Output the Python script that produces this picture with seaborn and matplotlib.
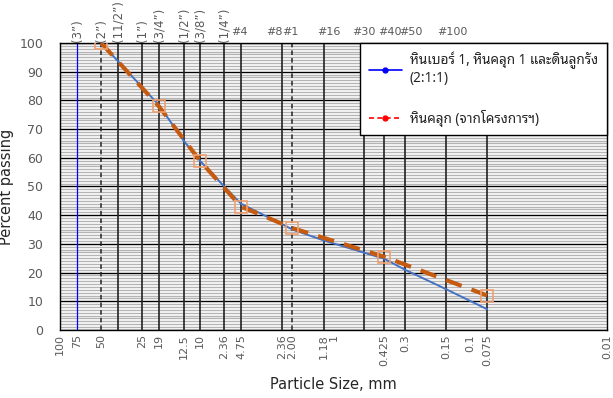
import numpy as np
import pandas as pd
import matplotlib
matplotlib.use('Agg')
import matplotlib.pyplot as plt
from matplotlib import font_manager as fm
from matplotlib.ft2font import FT2Font
from matplotlib.lines import Line2D
from matplotlib.ticker import NullLocator
import seaborn as sns

# blend: หินเบอร์ 1, หินคลุก 1 และดินลูกรัง (2:1:1)
blend_size = [50, 37.5, 25, 19, 12.5, 9.5, 6.3, 4.75, 2.36, 2.0, 1.18, 0.425, 0.3, 0.15, 0.075]
blend_pass = [100, 93.5, 84.5, 78.5, 66, 59, 50, 44, 36.8, 35, 31.2, 24.8, 21, 14.2, 7.2]

# หินคลุก (จากโครงการฯ)
spec_size = [50, 19, 9.5, 4.75, 2.0, 0.425, 0.075]
spec_pass = [100, 78, 59, 43, 35.5, 25.5, 12]

sieve_lines = [75, 50, 37.5, 25, 19, 12.5, 9.5, 6.3, 4.75, 2.36, 2.0, 1.18, 0.6, 0.425, 0.3, 0.15, 0.075]

bottom_pos = [100, 75, 50, 25, 19, 12.5, 9.5, 6.3, 4.75, 2.36, 2.0, 1.18, 1, 0.425, 0.3, 0.15, 0.1, 0.075, 0.01]
bottom_lab = ['100', '75', '50', '25', '19', '12.5', '10', '2.36', '4.75', '2.36', '2.00', '1.18', '1',
              '0.425', '0.3', '0.15', '0.1', '0.075', '0.01']

inch_pos = [75, 50, 37.5, 25, 19, 12.5, 9.5, 6.3]
inch_lab = ['(3\u201d)', '(2\u201d)', '(11/2\u201d)', '(1\u201d)', '(3/4\u201d)', '(1/2\u201d)', '(3/8\u201d)', '(1/4\u201d)']

no_pos = [4.75, 2.36, 2.0, 1.18, 0.6, 0.425, 0.3, 0.15]
no_lab = ['#4', '#8', '#1', '#16', '#30', '#40', '#50', '#100']
# small nudges (pixels) so the sieve numbers sit like the original
no_dx = [-2, -8, -2, 5, 0, 6, 6, 6]


def thai_font():
    # look for an installed sans font with Thai glyphs
    found = []
    for path in fm.findSystemFonts():
        try:
            if 0x0E2B in FT2Font(path).get_charmap():
                found.append(path)
        except Exception:
            pass
    if not found:
        return None

    def rank(p):
        n = p.lower()
        score = 0
        if 'notosansthai' in n.replace(' ', '').replace('-', ''):
            score -= 10
        if 'sans' in n or 'loma' in n or 'garuda' in n or 'tahoma' in n:
            score -= 5
        if 'mono' in n or 'serif' in n or 'bold' in n or 'italic' in n or 'oblique' in n:
            score += 8
        return score
    path = sorted(found, key=rank)[0]
    fm.fontManager.addfont(path)
    return fm.FontProperties(fname=path).get_name()


sns.set_style('white')
th = thai_font()
plt.rcParams['font.family'] = ['DejaVu Sans']
leg_family = ([th] if th else []) + ['DejaVu Sans']

blend = pd.DataFrame({'size': blend_size, 'passing': blend_pass})
spec = pd.DataFrame({'size': spec_size, 'passing': spec_pass})

fig = plt.figure(figsize=(6.13, 3.98), dpi=100)
ax = fig.add_axes([0.098, 0.171, 0.892, 0.721])

ax.set_xscale('log')
ax.set_xlim(100, 0.01)
ax.set_ylim(0, 100)

# grid
ax.set_yticks(np.arange(0, 101, 10))
ax.set_yticks(np.arange(0, 101, 1), minor=True)
ax.grid(which='minor', axis='y', color='#B4B4B4', lw=1.0, zorder=0)
ax.grid(which='major', axis='y', color='black', lw=1.0, zorder=0)
for s in sieve_lines:
    if s == 75:
        ax.axvline(s, color='#0000FF', lw=0.9, zorder=1)
    elif s in (50, 2.0):
        ax.axvline(s, color='#222222', lw=1.1, ls=(0, (3, 2)), zorder=1)
    else:
        ax.axvline(s, color='#222222', lw=1.2, zorder=1)

sns.lineplot(data=blend, x='size', y='passing', sort=False, color='#4472C4', lw=1.4, ax=ax, zorder=3)
sns.lineplot(data=spec, x='size', y='passing', sort=False, color='#C55A11', lw=3, ls=(0, (4, 2.5)),
             marker='s', ms=8, mfc='none', mec='#F0A070', mew=1.2, ax=ax, zorder=4)

ax.xaxis.set_minor_locator(NullLocator())
ax.set_xticks(bottom_pos, bottom_lab, rotation=90)
ax.tick_params(axis='x', length=0, pad=3, labelsize=8, labelcolor='#595959')
ax.tick_params(axis='y', which='both', length=0, pad=12, labelsize=9, labelcolor='#595959')

for p, t in zip(inch_pos, inch_lab):
    ax.text(p, 100.5, t, rotation=90, ha='center', va='bottom', fontsize=8.5, color='#595959')
for p, t, dx in zip(no_pos, no_lab, no_dx):
    ax.annotate(t, (p, 100), xytext=(dx * 0.72, 4), textcoords='offset points', ha='center', va='bottom',
                fontsize=8, color='#595959')

for sp in ax.spines.values():
    sp.set_color('black')
    sp.set_linewidth(1.0)

ax.set_xlabel('Particle Size, mm', fontsize=10.5)
ax.xaxis.set_label_coords(0.5, -0.165)
ax.set_ylabel('Percent passing', fontsize=10.5)
ax.yaxis.set_label_coords(-0.085, 0.5)

handles = [Line2D([], [], color='#0000FF', lw=1.2, marker='o', ms=3.5),
           Line2D([], [], color='#FF0000', lw=1.2, ls=(0, (3, 2)), marker='o', ms=3.5)]
labels = ['หินเบอร์ 1, หินคลุก 1 และดินลูกรัง\n(2:1:1)', 'หินคลุก (จากโครงการฯ)']
leg = ax.legend(handles, labels, loc='upper right', borderaxespad=0, fancybox=False, framealpha=1,
                edgecolor='black', handlelength=2.4, handletextpad=0.6, labelspacing=1.7,
                borderpad=0.65, prop={'family': leg_family, 'size': 9.8})
leg.get_frame().set_linewidth(1.0)
leg.set_zorder(10)

fig.savefig('out.png', dpi=100)
